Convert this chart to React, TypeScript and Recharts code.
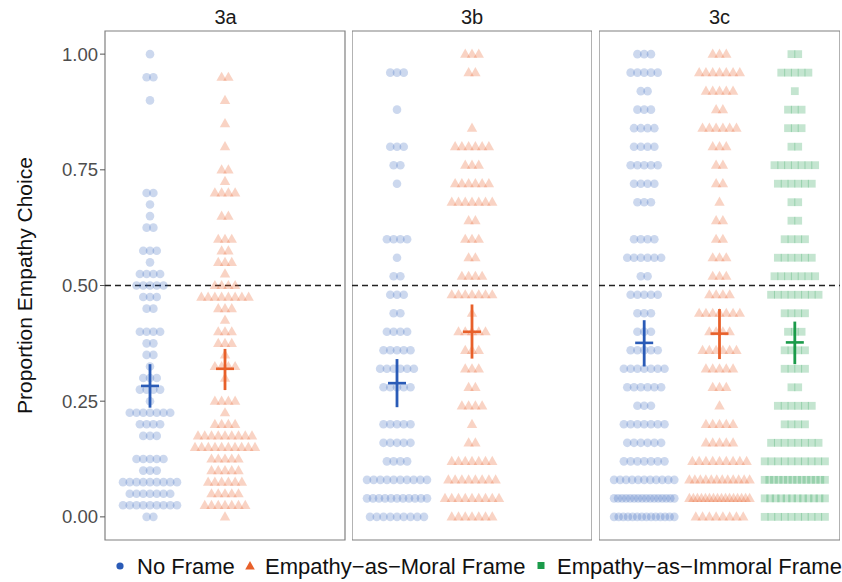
import { ScatterChart, Scatter, XAxis, YAxis, ReferenceLine, ReferenceArea, ErrorBar } from "recharts";

const GROUP_NAMES = ["No Frame", "Empathy−as−Moral Frame", "Empathy−as−Immoral Frame"];
const GROUP_COLORS = ["#2a5bb7", "#e8602a", "#1b9b4a"];
const Y_TICKS = [0, 0.25, 0.5, 0.75, 1];

// 3a: answers in steps of 1/40, counts per level from 0.00 to 1.00
const STEP_3A = 0.025;
const NOFRAME_3A = [2, 9, 7, 9, 3, 5, 0, 3, 4, 7, 1, 4, 3, 1, 2, 2, 4, 0, 2, 3, 5, 4, 1, 3, 0, 2, 1, 1, 2, 0, 0, 0, 0, 0, 0, 0, 1, 0, 2, 0, 1];
const MORAL_3A = [1, 7, 5, 6, 5, 5, 10, 9, 4, 1, 4, 0, 1, 4, 1, 3, 3, 1, 3, 8, 4, 1, 3, 2, 3, 0, 2, 0, 4, 1, 2, 0, 1, 0, 1, 0, 1, 0, 2, 0, 0];
const MEAN_3A = [0.283, 0.32];
const LOW_3A = [0.236, 0.274];
const HIGH_3A = [0.33, 0.363];

// 3b and 3c: steps of 1/25
const STEP_3B = 0.04;
const NOFRAME_3B = [9, 11, 10, 4, 5, 5, 0, 5, 6, 5, 4, 2, 3, 2, 1, 4, 0, 0, 1, 2, 3, 0, 1, 0, 3, 0];
const MORAL_3B = [7, 9, 8, 7, 2, 1, 4, 2, 3, 3, 5, 1, 7, 4, 2, 3, 2, 7, 6, 3, 6, 1, 0, 0, 2, 3];
const MEAN_3B = [0.289, 0.4];
const LOW_3B = [0.237, 0.342];
const HIGH_3B = [0.341, 0.459];

const STEP_3C = 0.04;
const NOFRAME_3C = [14, 16, 11, 7, 6, 7, 3, 6, 7, 5, 3, 3, 5, 2, 6, 4, 0, 3, 4, 5, 4, 4, 3, 2, 5, 3];
const MORAL_3C = [8, 16, 12, 9, 5, 5, 1, 3, 5, 6, 4, 7, 4, 3, 3, 2, 2, 1, 2, 2, 3, 6, 2, 5, 7, 3];
const IMMORAL_3C = [10, 12, 14, 10, 8, 4, 6, 2, 4, 4, 3, 4, 8, 7, 6, 4, 2, 2, 6, 7, 2, 3, 3, 1, 5, 2];
const MEAN_3C = [0.376, 0.396, 0.377];
const LOW_3C = [0.325, 0.341, 0.33];
const HIGH_3C = [0.425, 0.449, 0.422];

const FONT = "'Liberation Sans', Arial, sans-serif";

type Pt = { x: number; y: number };

// dot-plot style spread of the points sharing one answer level
function dotsFor(counts: number[], step: number, group: number): Pt[] {
  const pts: Pt[] = [];
  counts.forEach((n, k) => {
    const gap = n > 1 ? Math.min(0.09, 0.8 / (n - 1)) : 0;
    for (let i = 0; i < n; i++) pts.push({ x: group + (i - (n - 1) / 2) * gap, y: k * step });
  });
  return pts;
}

const pointShape = (g: number) => (p: any) => {
  const { cx, cy } = p;
  const c = GROUP_COLORS[g];
  if (g === 0) return <circle cx={cx} cy={cy} r={4.3} fill={c} fillOpacity={0.24} />;
  if (g === 1)
    return <polygon points={`${cx},${cy - 5.6} ${cx - 5.2},${cy + 3.6} ${cx + 5.2},${cy + 3.6}`} fill={c} fillOpacity={0.28} />;
  return <rect x={cx - 3.9} y={cy - 3.9} width={7.8} height={7.8} fill={c} fillOpacity={0.26} />;
};

const meanShape = (g: number) => (p: any) => (
  <line x1={p.cx - 9} x2={p.cx + 9} y1={p.cy} y2={p.cy} stroke={GROUP_COLORS[g]} strokeWidth={2.6} />
);

type PanelProps = {
  title: string;
  series: number[][];
  step: number;
  means: number[];
  lows: number[];
  highs: number[];
  left: number;
  width: number;
  showAxis?: boolean;
};

function Panel({ title, series, step, means, lows, highs, left, width, showAxis }: PanelProps) {
  const plotLeft = showAxis ? 105 : 0;
  return (
    <div style={{ position: "absolute", left, top: 0, width, height: 582 }}>
      <div
        style={{
          position: "absolute", left: plotLeft, width: width - plotLeft, top: 7, textAlign: "center",
          fontSize: 20, lineHeight: "20px", color: "#1a1a1a",
        }}
      >
        {title}
      </div>
      <ScatterChart width={width} height={582} margin={{ top: 31, right: showAxis ? 1 : 0, bottom: 42, left: 0 }}>
        <XAxis type="number" dataKey="x" domain={[0.4, 3.6]} hide allowDataOverflow />
        <YAxis
          type="number" dataKey="y" domain={[-0.05, 1.05]} ticks={Y_TICKS} allowDataOverflow
          hide={!showAxis} width={105} axisLine={false} tickSize={5} tickLine={{ stroke: "#555" }}
          tickFormatter={(v: number) => v.toFixed(2)}
          tick={{ fontSize: 18.5, fill: "#4d4d4d", fontFamily: FONT }}
          label={{
            value: "Proportion Empathy Choice", angle: -90, position: "insideLeft", offset: 25,
            style: { textAnchor: "middle", fontSize: 21, fill: "#111", fontFamily: FONT },
          }}
        />
        {series.map((counts, g) => (
          <Scatter key={"d" + g} data={dotsFor(counts, step, g + 1)} shape={pointShape(g)} isAnimationActive={false} />
        ))}
        <ReferenceLine y={0.5} stroke="#222" strokeDasharray="6 4" strokeWidth={1.5} />
        {means.map((m, g) => (
          <Scatter
            key={"m" + g}
            data={[{ x: g + 1, y: m, err: [m - lows[g], highs[g] - m] }]}
            shape={meanShape(g)}
            isAnimationActive={false}
          >
            <ErrorBar dataKey="err" direction="y" width={0} stroke={GROUP_COLORS[g]} strokeWidth={2.8} />
          </Scatter>
        ))}
        <ReferenceArea x1={0.4} x2={3.6} y1={-0.05} y2={1.05} fill="none" fillOpacity={0} stroke="#808080" strokeWidth={1.2} />
      </ScatterChart>
    </div>
  );
}

const LEGEND_TEXT_LEFT = [137, 265, 557];
const LEGEND_GLYPH_X = [120, 250, 541];

function Legend() {
  return (
    <>
      <svg style={{ position: "absolute", left: 0, top: 550, width: 842, height: 30 }}>
        <circle cx={LEGEND_GLYPH_X[0]} cy={16} r={3.6} fill={GROUP_COLORS[0]} />
        <polygon
          points={`${LEGEND_GLYPH_X[1]},${11} ${LEGEND_GLYPH_X[1] - 4.8},${19.5} ${LEGEND_GLYPH_X[1] + 4.8},${19.5}`}
          fill={GROUP_COLORS[1]}
        />
        <rect x={LEGEND_GLYPH_X[2] - 3.5} y={12} width={7} height={7} fill={GROUP_COLORS[2]} />
      </svg>
      {GROUP_NAMES.map((name, i) => (
        <div
          key={name}
          style={{
            position: "absolute", left: LEGEND_TEXT_LEFT[i], top: 556, fontSize: 22, lineHeight: "22px",
            color: "#111", whiteSpace: "nowrap",
          }}
        >
          {name}
        </div>
      ))}
    </>
  );
}

export default function App() {
  return (
    <div
      style={{
        position: "absolute", left: 0, top: 0, width: 842, height: 582, background: "#fff",
        fontFamily: FONT, overflow: "hidden",
      }}
    >
      <Panel
        title="3a" series={[NOFRAME_3A, MORAL_3A]} step={STEP_3A}
        means={MEAN_3A} lows={LOW_3A} highs={HIGH_3A} left={0} width={346} showAxis
      />
      <Panel
        title="3b" series={[NOFRAME_3B, MORAL_3B]} step={STEP_3B}
        means={MEAN_3B} lows={LOW_3B} highs={HIGH_3B} left={352} width={240}
      />
      <Panel
        title="3c" series={[NOFRAME_3C, MORAL_3C, IMMORAL_3C]} step={STEP_3C}
        means={MEAN_3C} lows={LOW_3C} highs={HIGH_3C} left={599} width={241}
      />
      <Legend />
    </div>
  );
}
